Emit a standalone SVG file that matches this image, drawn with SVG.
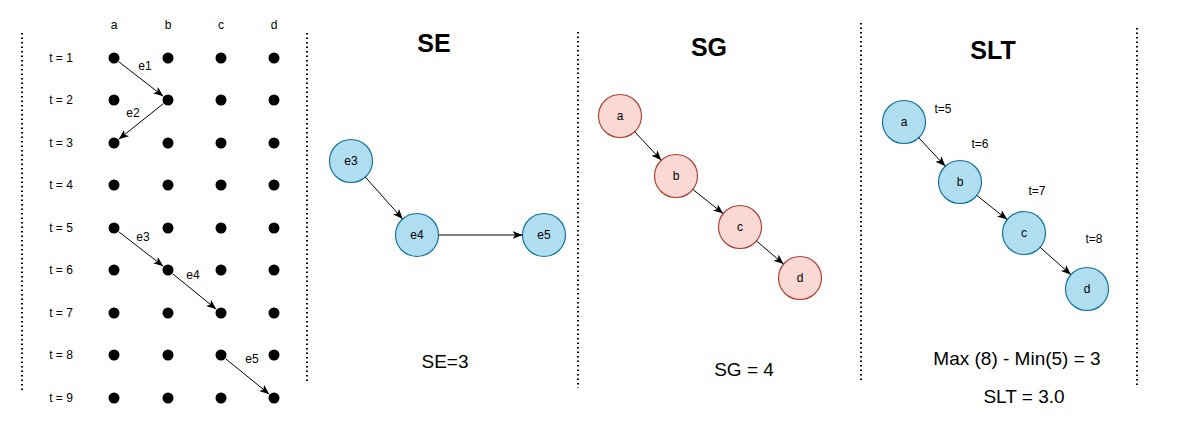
<svg xmlns="http://www.w3.org/2000/svg" width="1185" height="448" viewBox="0 0 1185 448">
<style>
text{font-family:"Liberation Sans",Arial,sans-serif;fill:#000}
.lbl{font-size:12px;text-anchor:middle;dominant-baseline:central}
.big{font-size:19px;text-anchor:middle;dominant-baseline:central}
.title{font-size:25px;font-weight:bold;text-anchor:middle;dominant-baseline:central}
.dot{fill:#000}
.sep{stroke:#000;stroke-width:2;stroke-dasharray:1.5 3;fill:none}
.blue{fill:#b1ddf0;stroke:#10739e;stroke-width:1.2}
.red{fill:#fad9d5;stroke:#ae4132;stroke-width:1.2}
.edge{stroke:#000;stroke-width:1;fill:none;marker-end:url(#arr)}
</style>
<defs>
<marker id="arr" markerUnits="userSpaceOnUse" markerWidth="11" markerHeight="8" refX="10" refY="4" orient="auto">
<path d="M0,0 L10,4 L0,8 L2.5,4 z" fill="#000"/>
</marker>
</defs>
<rect width="1185" height="448" fill="#fff"/>
<g id="separators">
<line class="sep" x1="22" y1="33" x2="22" y2="390"/>
<line class="sep" x1="307" y1="33" x2="307" y2="383"/>
<line class="sep" x1="578" y1="32" x2="578" y2="388"/>
<line class="sep" x1="861" y1="23" x2="861" y2="380"/>
<line class="sep" x1="1137" y1="28" x2="1137" y2="386"/>
</g>
<g id="grid">
<text class="lbl" x="114" y="25">a</text>
<text class="lbl" x="168" y="25">b</text>
<text class="lbl" x="221" y="25">c</text>
<text class="lbl" x="274" y="25">d</text>
<text class="lbl" x="61" y="58">t = 1</text>
<text class="lbl" x="61" y="100">t = 2</text>
<text class="lbl" x="61" y="143">t = 3</text>
<text class="lbl" x="61" y="185">t = 4</text>
<text class="lbl" x="61" y="228">t = 5</text>
<text class="lbl" x="61" y="270">t = 6</text>
<text class="lbl" x="61" y="313">t = 7</text>
<text class="lbl" x="61" y="355">t = 8</text>
<text class="lbl" x="61" y="398">t = 9</text>
<g>
<circle class="dot" cx="114" cy="58" r="5.5"/><circle class="dot" cx="168" cy="58" r="5.5"/><circle class="dot" cx="221" cy="58" r="5.5"/><circle class="dot" cx="274" cy="58" r="5.5"/>
<circle class="dot" cx="114" cy="100" r="5.5"/><circle class="dot" cx="168" cy="100" r="5.5"/><circle class="dot" cx="221" cy="100" r="5.5"/><circle class="dot" cx="274" cy="100" r="5.5"/>
<circle class="dot" cx="114" cy="143" r="5.5"/><circle class="dot" cx="168" cy="143" r="5.5"/><circle class="dot" cx="221" cy="143" r="5.5"/><circle class="dot" cx="274" cy="143" r="5.5"/>
<circle class="dot" cx="114" cy="185" r="5.5"/><circle class="dot" cx="168" cy="185" r="5.5"/><circle class="dot" cx="221" cy="185" r="5.5"/><circle class="dot" cx="274" cy="185" r="5.5"/>
<circle class="dot" cx="114" cy="228" r="5.5"/><circle class="dot" cx="168" cy="228" r="5.5"/><circle class="dot" cx="221" cy="228" r="5.5"/><circle class="dot" cx="274" cy="228" r="5.5"/>
<circle class="dot" cx="114" cy="270" r="5.5"/><circle class="dot" cx="168" cy="270" r="5.5"/><circle class="dot" cx="221" cy="270" r="5.5"/><circle class="dot" cx="274" cy="270" r="5.5"/>
<circle class="dot" cx="114" cy="313" r="5.5"/><circle class="dot" cx="168" cy="313" r="5.5"/><circle class="dot" cx="221" cy="313" r="5.5"/><circle class="dot" cx="274" cy="313" r="5.5"/>
<circle class="dot" cx="114" cy="355" r="5.5"/><circle class="dot" cx="168" cy="355" r="5.5"/><circle class="dot" cx="221" cy="355" r="5.5"/><circle class="dot" cx="274" cy="355" r="5.5"/>
<circle class="dot" cx="114" cy="398" r="5.5"/><circle class="dot" cx="168" cy="398" r="5.5"/><circle class="dot" cx="221" cy="398" r="5.5"/><circle class="dot" cx="274" cy="398" r="5.5"/>
</g>
<text class="lbl" x="145" y="66">e1</text>
<text class="lbl" x="133" y="113">e2</text>
<text class="lbl" x="143" y="237">e3</text>
<text class="lbl" x="193" y="275">e4</text>
<text class="lbl" x="252" y="359">e5</text>
</g>
<g id="SE-title"><text class="title" x="434" y="43">SE</text></g>
<g id="SG-title"><text class="title" x="709" y="47">SG</text></g>
<g id="SLT-title"><text class="title" x="993" y="50">SLT</text></g>
<g id="se-e3"><circle class="blue" cx="351" cy="161" r="21.5"/><text class="lbl" x="351" y="161">e3</text></g>
<g id="se-e4"><circle class="blue" cx="417" cy="235" r="21.5"/><text class="lbl" x="417" y="235">e4</text></g>
<g id="se-e5"><circle class="blue" cx="544" cy="235" r="21.5"/><text class="lbl" x="544" y="235">e5</text></g>
<g id="se-value"><text class="big" x="445" y="361">SE=3</text></g>
<g id="sg-a"><circle class="red" cx="620" cy="116" r="21.5"/><text class="lbl" x="620" y="116">a</text></g>
<g id="sg-b"><circle class="red" cx="676" cy="176" r="21.5"/><text class="lbl" x="676" y="176">b</text></g>
<g id="sg-c"><circle class="red" cx="740" cy="227" r="21.5"/><text class="lbl" x="740" y="227">c</text></g>
<g id="sg-d"><circle class="red" cx="800" cy="278" r="21.5"/><text class="lbl" x="800" y="278">d</text></g>
<g id="sg-value"><text class="big" x="744" y="369">SG = 4</text></g>
<g id="slt-a"><circle class="blue" cx="904" cy="122" r="21.5"/><text class="lbl" x="904" y="122">a</text></g>
<g id="slt-b"><circle class="blue" cx="960" cy="182" r="21.5"/><text class="lbl" x="960" y="182">b</text></g>
<g id="slt-c"><circle class="blue" cx="1024" cy="233" r="21.5"/><text class="lbl" x="1024" y="233">c</text></g>
<g id="slt-d"><circle class="blue" cx="1087" cy="289" r="21.5"/><text class="lbl" x="1087" y="289">d</text></g>
<g id="slt-times">
<text class="lbl" x="943" y="109">t=5</text>
<text class="lbl" x="980" y="144">t=6</text>
<text class="lbl" x="1037" y="191">t=7</text>
<text class="lbl" x="1094" y="239">t=8</text>
</g>
<g id="slt-value">
<text class="big" x="1017" y="358">Max (8) - Min(5) = 3</text>
<text class="big" x="1024" y="396">SLT = 3.0</text>
</g>
<g id="connectors">
<line class="edge" x1="118.7" y1="61.7" x2="163.3" y2="96.3"/>
<line class="edge" x1="163.3" y1="103.7" x2="118.7" y2="139.3"/>
<line class="edge" x1="118.7" y1="231.7" x2="163.3" y2="266.3"/>
<line class="edge" x1="172.7" y1="273.8" x2="216.3" y2="309.2"/>
<line class="edge" x1="225.7" y1="358.8" x2="269.3" y2="394.2"/>
<line class="edge" x1="365.3" y1="177" x2="402.7" y2="219"/>
<line class="edge" x1="438.5" y1="235" x2="522.5" y2="235"/>
<line class="edge" x1="634.7" y1="131.7" x2="661.3" y2="160.3"/>
<line class="edge" x1="692.8" y1="189.4" x2="723.2" y2="213.6"/>
<line class="edge" x1="756.4" y1="240.9" x2="783.6" y2="264.1"/>
<line class="edge" x1="918.7" y1="137.7" x2="945.3" y2="166.3"/>
<line class="edge" x1="976.8" y1="195.4" x2="1007.2" y2="219.6"/>
<line class="edge" x1="1040.1" y1="247.3" x2="1070.9" y2="274.7"/>
</g>
</svg>
